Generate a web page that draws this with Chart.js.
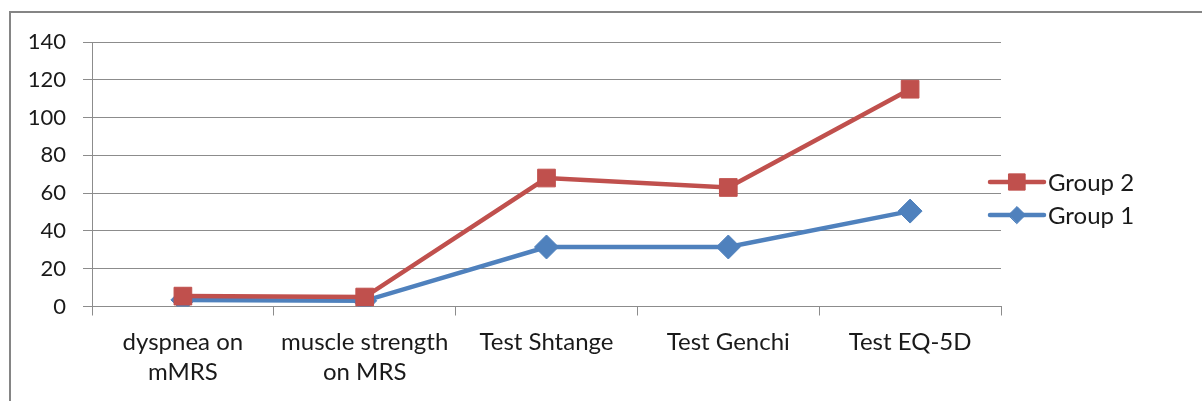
<!DOCTYPE html>
<html>
<head>
<meta charset="utf-8">
<script src="https://cdn.jsdelivr.net/npm/chart.js@4"></script>
<style>
  html, body { margin: 0; padding: 0; background: #fff; }
  #wrap { width: 1202px; height: 401px; position: relative; }
</style>
</head>
<body>
<div id="wrap"><canvas id="myChart"></canvas></div>
<script>
// categories and values
const categorias = [['dyspnea on', 'mMRS'], ['muscle strength', 'on MRS'], 'Test Shtange', 'Test Genchi', 'Test EQ-5D'];
const grupo2 = [5.5, 5, 68, 63, 115];
const grupo1 = [3.5, 3, 31.5, 31.5, 50.5];
const ticksY = [0, 20, 40, 60, 80, 100, 120, 140];

const rojo = '#C0504D';
const azul = '#4F81BD';
const fuente = 'Lato, Calibri, Carlito, "Liberation Sans", sans-serif';

// marco gris y leyenda dibujada a mano (linea + marcador como en Excel)
const marcoYLeyenda = {
  id: 'marcoYLeyenda',
  beforeDraw(chart) {
    const ctx = chart.ctx;
    ctx.save();
    ctx.strokeStyle = '#858585';
    ctx.lineWidth = 2;
    ctx.strokeRect(10, 12, 1300, 500);
    ctx.restore();
  },
  afterDraw(chart) {
    const ctx = chart.ctx;
    const x0 = chart.chartArea.right - 11;
    const ys = [182, 215];
    chart.data.datasets.forEach((ds, i) => {
      const y = ys[i];
      ctx.save();
      ctx.strokeStyle = ds.borderColor;
      ctx.lineWidth = 4.5;
      ctx.lineCap = 'round';
      ctx.beginPath();
      ctx.moveTo(x0, y);
      ctx.lineTo(x0 + 54, y);
      ctx.stroke();
      ctx.fillStyle = ds.borderColor;
      ctx.strokeStyle = ds.borderColor;
      ctx.lineWidth = 1;
      Chart.helpers.drawPoint(ctx, {
        pointStyle: ds.pointStyle,
        radius: ds.pointStyle === 'rect' ? 11.5 : 8.5,
        borderWidth: 1,
        rotation: 0
      }, x0 + 27, y);
      ctx.fillStyle = '#1a1a1a';
      ctx.font = '24px ' + fuente;
      ctx.textBaseline = 'middle';
      ctx.fillText(ds.label, x0 + 58, y + 1);
      ctx.restore();
    });
  }
};

const lienzo = document.getElementById('myChart');
new Chart(lienzo, {
  type: 'line',
  data: {
    labels: categorias,
    datasets: [
      {
        label: 'Group 2',
        data: grupo2,
        borderColor: rojo,
        backgroundColor: rojo,
        borderWidth: 4.5,
        pointStyle: 'rect',
        pointRadius: 12.5,
        pointHoverRadius: 12.5,
        pointBorderWidth: 1,
        tension: 0
      },
      {
        label: 'Group 1',
        data: grupo1,
        borderColor: azul,
        backgroundColor: azul,
        borderWidth: 4.5,
        pointStyle: 'rectRot',
        pointRadius: 12,
        pointHoverRadius: 12,
        pointBorderWidth: 1,
        tension: 0
      }
    ]
  },
  options: {
    responsive: true,
    maintainAspectRatio: false,
    animation: false,
    layout: { padding: { left: 0, top: 42, right: 201, bottom: 0 } },
    plugins: {
      legend: { display: false },
      tooltip: { enabled: false }
    },
    scales: {
      x: {
        offset: true,
        grid: {
          offset: true,
          drawOnChartArea: false,
          drawTicks: true,
          tickLength: 9,
          color: '#8c8c8c',
          lineWidth: 1
        },
        border: { display: true, color: '#8c8c8c', width: 1 },
        ticks: {
          color: '#1a1a1a',
          padding: 12,
          maxRotation: 0,
          autoSkip: false,
          font: { family: fuente, size: 24, lineHeight: 1.25 }
        },
        afterFit(scale) { scale.height = 94.5; }
      },
      y: {
        min: 0,
        max: 140,
        afterBuildTicks(scale) { scale.ticks = ticksY.map(v => ({ value: v })); },
        grid: {
          color: '#8c8c8c',
          lineWidth: 1,
          tickLength: 9
        },
        border: { display: true, color: '#8c8c8c', width: 1 },
        ticks: {
          color: '#1a1a1a',
          padding: 17,
          font: { family: fuente, size: 22 }
        },
        afterFit(scale) { scale.width = 92; }
      }
    }
  },
  plugins: [marcoYLeyenda]
});
</script>
</body>
</html>
